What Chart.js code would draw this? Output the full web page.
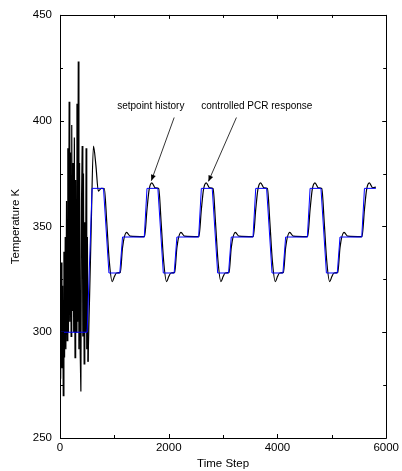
<!DOCTYPE html>
<html>
<head>
<meta charset="utf-8">
<script src="https://cdn.jsdelivr.net/npm/chart.js@4/dist/chart.umd.min.js"></script>
<style>
html,body{margin:0;padding:0;background:#fff;}
canvas{display:block;}
</style>
</head>
<body>
<canvas id="c" width="402" height="471"></canvas>
<script>
// ---- data ----
const NOISE_STEP = 12; // sample spacing of the early noisy response (time steps)
const noiseTemps = [318,278,333,283,322,270,338,288,345,292,
  362,296,387,300,409,305,385,298,398,310,
  380,300,392,288,372,300,408,305,428,292,
  380,290,272,362,388,298,375,285,352,300,
  387,292,345,286];

const responseSteps = [516,570,615,660,705,760,815,860,905,960,1000,1040,1110,1150,1225,1290,
  1555,1600,1640,1690,1750,1815,1860,1905,1960,2000,2040,2110,2150,2225,2290,
  2555,2600,2640,2690,2750,2815,2860,2905,2960,3000,3040,3110,3150,3225,3290,
  3555,3600,3640,3690,3750,3815,3860,3905,3960,4000,4040,4110,4150,4225,4290,
  4555,4600,4640,4690,4750,4815,4860,4905,4960,5000,5040,5110,5150,5225,5290,
  5555,5600,5640,5690,5750,5810];
const responseTemps = [286,345,388,379,366.7,368,367.9,352,334,323.9,326.3,328,328.3,340,347.2,345.4,
  345.2,358,367.5,370.6,368.3,367.9,352,334,323.9,326.3,328,328.3,340,347.2,345.4,
  345.2,358,367.5,370.6,368.3,367.9,352,334,323.9,326.3,328,328.3,340,347.2,345.4,
  345.2,358,367.5,370.6,368.3,367.9,352,334,323.9,326.3,328,328.3,340,347.2,345.4,
  345.2,358,367.5,370.6,368.3,367.9,352,334,323.9,326.3,328,328.3,340,347.2,345.4,
  345.2,358,367.5,370.6,368.3,368.6];

const setpointSteps = [0,500,590,800,900,1100,1150,1550,
  1600,1800,1900,2100,2150,2550,
  2600,2800,2900,3100,3150,3550,
  3600,3800,3900,4100,4150,4550,
  4600,4800,4900,5100,5150,5550,
  5600,5810];
const setpointTemps = [300,300,368,368,328,328,345,345,
  368,368,328,328,345,345,
  368,368,328,328,345,345,
  368,368,328,328,345,345,
  368,368,328,328,345,345,
  368,368];

const xTickLabels = [0,2000,4000,6000];
const yTickLabels = [250,300,350,400,450];

const annotations = [
  {text:'setpoint history', tx:1670, ty:406.7, tail:[2100,401.5], tip:[1680,371.6]},
  {text:'controlled PCR response', tx:3620, ty:406.7, tail:[3245,401.5], tip:[2730,371.3]}
];

// ---- build library tables ----
const noiseData = noiseTemps.map((v,i)=>({x:i*NOISE_STEP, y:v}));
const responseData = responseSteps.map((s,i)=>({x:s, y:responseTemps[i]}));
const setpointData = setpointSteps.map((s,i)=>({x:s, y:setpointTemps[i]}));

const FONT = 'Liberation Sans, Arial, Helvetica, sans-serif';

const framePlugin = {
  id:'frame',
  afterDatasetsDraw(chart){
    const {ctx, chartArea:a, scales:{x,y}} = chart;
    ctx.save();
    ctx.strokeStyle = '#000';
    ctx.lineWidth = 1;
    ctx.beginPath();
    ctx.rect(Math.round(a.left)+0.5, Math.round(a.top)+0.5, Math.round(a.right-a.left), Math.round(a.bottom-a.top));
    ctx.stroke();
    // inward ticks
    ctx.beginPath();
    for (let v=0; v<=6000; v+=1000){
      const px = Math.round(x.getPixelForValue(v))+0.5;
      const len = xTickLabels.includes(v) ? 4 : 3;
      ctx.moveTo(px, a.bottom); ctx.lineTo(px, a.bottom-len);
      ctx.moveTo(px, a.top); ctx.lineTo(px, a.top+len);
    }
    for (let v=250; v<=450; v+=25){
      const py = Math.round(y.getPixelForValue(v))+0.5;
      const len = yTickLabels.includes(v) ? 4 : 3;
      ctx.moveTo(a.left, py); ctx.lineTo(a.left+len, py);
      ctx.moveTo(a.right, py); ctx.lineTo(a.right-len, py);
    }
    ctx.stroke();
    // annotations
    ctx.fillStyle = '#000';
    ctx.font = '10px ' + FONT;
    ctx.textAlign = 'center';
    ctx.textBaseline = 'middle';
    annotations.forEach(an=>{
      ctx.fillText(an.text, x.getPixelForValue(an.tx), y.getPixelForValue(an.ty));
      const x0 = x.getPixelForValue(an.tail[0]), y0 = y.getPixelForValue(an.tail[1]);
      const x1 = x.getPixelForValue(an.tip[0]), y1 = y.getPixelForValue(an.tip[1]);
      ctx.beginPath();
      ctx.moveTo(x0,y0); ctx.lineTo(x1,y1);
      ctx.lineWidth = 0.8;
      ctx.stroke();
      const ang = Math.atan2(y1-y0, x1-x0);
      const L = 6, W = 2.5;
      ctx.beginPath();
      ctx.moveTo(x1,y1);
      ctx.lineTo(x1 - L*Math.cos(ang) + W*Math.sin(ang), y1 - L*Math.sin(ang) - W*Math.cos(ang));
      ctx.lineTo(x1 - L*Math.cos(ang) - W*Math.sin(ang), y1 - L*Math.sin(ang) + W*Math.cos(ang));
      ctx.closePath();
      ctx.fill();
    });
    ctx.restore();
  }
};

new Chart(document.getElementById('c').getContext('2d'), {
  type:'line',
  data:{
    datasets:[
      {label:'setpoint history', data:setpointData, borderColor:'#0000ff', borderWidth:1, pointRadius:0, tension:0, fill:false},
      {label:'controlled PCR response', data:responseData, borderColor:'#000', borderWidth:1.2, pointRadius:0, cubicInterpolationMode:'monotone', fill:false},
      {label:'controlled PCR response (start)', data:noiseData, borderColor:'#000', borderWidth:1.2, pointRadius:0, tension:0, fill:false}
    ]
  },
  options:{
    responsive:false,
    animation:false,
    devicePixelRatio:1,
    layout:{padding:{top:8, right:14, left:0, bottom:0}},
    plugins:{legend:{display:false}, tooltip:{enabled:false}},
    scales:{
      x:{
        type:'linear', min:0, max:6000,
        afterBuildTicks(s){ s.ticks = xTickLabels.map(v=>({value:v})); },
        ticks:{color:'#000', font:{family:FONT, size:11.5}, padding:3, maxRotation:0, autoSkip:false, callback:(v)=>String(v)},
        grid:{display:false, drawTicks:false},
        border:{display:false},
        title:{display:true, text:'Time Step', color:'#000', font:{family:FONT, size:11.5}, padding:{top:0,bottom:0}},
        afterFit(s){ s.height = 33; }
      },
      y:{
        type:'linear', min:250, max:450,
        afterBuildTicks(s){ s.ticks = yTickLabels.map(v=>({value:v})); },
        ticks:{color:'#000', font:{family:FONT, size:11.5}, padding:8, autoSkip:false, callback:(v)=>String(v)},
        grid:{display:false, drawTicks:false},
        border:{display:false},
        title:{display:true, text:'Temperature K', color:'#000', font:{family:FONT, size:11.5}, padding:{top:9,bottom:0}},
        afterFit(s){ s.width = 60; }
      }
    }
  },
  plugins:[framePlugin]
});
</script>
</body>
</html>
